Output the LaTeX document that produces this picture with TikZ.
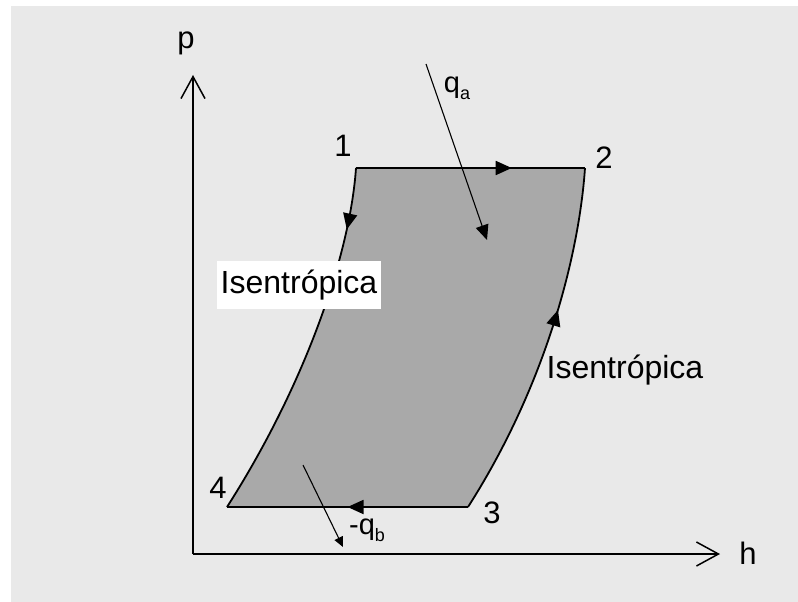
\documentclass[tikz,border=0pt]{standalone}
\usepackage{fontspec}
\setmainfont{Liberation Sans}
\usetikzlibrary{arrows.meta,decorations.markings}
\definecolor{bggray}{HTML}{E9E9E9}
\definecolor{cycgray}{HTML}{A9A9A9}
\newcommand{\lowsub}[1]{\raisebox{-7pt}{\fontsize{18}{18}\selectfont #1}}
\tikzset{
  axisline/.style={line width=1.5pt,-{Straight Barb[length=22pt,width=24pt]}},
  cycedge/.style={line width=1.8pt,line join=round},
  cycfill/.style={fill=cycgray},
  midarrow/.style={postaction={decorate},decoration={markings,
    mark=at position #1 with {\arrow{Triangle[length=16pt,width=14pt]}}}},
  heat/.style={line width=1.1pt,-{Triangle[length=15pt,width=13pt]}},
  heatsmall/.style={line width=1.1pt,-{Triangle[length=10pt,width=9pt]}},
  ptlbl/.style={font=\fontsize{31}{36}\selectfont,inner sep=0pt},
  qlbl/.style={font=\fontsize{29}{34}\selectfont,inner sep=0pt},
  isolbl/.style={font=\fontsize{32}{38}\selectfont},
}
\begin{document}
\begin{tikzpicture}[x=1pt,y=-1pt]
  % background
  \fill[white] (0,0) rectangle (798,602);
  \fill[bggray] (11,6) rectangle (798,602);
  % axes
  \coordinate (o) at (193,554);
  \coordinate (ytip) at (193,75);
  \coordinate (xtip) at (720,554);
  \draw[axisline] (o) -- (ytip);
  \draw[axisline] (o) -- (xtip);
  \node[ptlbl] (plbl) at (186,43) {p};
  \node[ptlbl] (hlbl) at (748,553) {h};
  % cycle corners
  \coordinate (p1) at (356,168);
  \coordinate (p2) at (585,168);
  \coordinate (p3) at (468,507);
  \coordinate (p4) at (227,507);
  \fill[cycfill] (p1) -- (p2) .. controls (579,255) and (546,385) .. (p3)
    -- (p4) .. controls (305,385) and (350,255) .. (p1) -- cycle;
  \draw[cycedge,midarrow=0.68] (p1) -- (p2);
  \draw[cycedge,midarrow=0.6] (p3) .. controls (546,385) and (579,255) .. (p2);
  \draw[cycedge,midarrow=0.5] (p3) -- (p4);
  \draw[cycedge,midarrow=0.17] (p1) .. controls (350,255) and (305,385) .. (p4);
  \node[ptlbl] (lbl1) at (343,146) {1};
  \node[ptlbl] (lbl2) at (604,158) {2};
  \node[ptlbl] (lbl3) at (492,513) {3};
  \node[ptlbl] (lbl4) at (218,488) {4};
  % heat in and out
  \coordinate (qa0) at (426,64);
  \coordinate (qa1) at (487,240);
  \draw[heat] (qa0) -- (qa1);
  \node[qlbl] (qalbl) at (457,88) {q\lowsub{a}};
  \coordinate (qb0) at (303,465);
  \coordinate (qb1) at (343,547);
  \draw[heatsmall] (qb0) -- (qb1);
  \node[qlbl] (qblbl) at (367,530) {-q\lowsub{b}};
  % isentropic labels
  \node[isolbl,fill=white,inner xsep=4pt,minimum height=48pt] (isoleft) at (299,285) {Isentrópica};
  \node[isolbl] (isoright) at (625,370) {Isentrópica};
\end{tikzpicture}
\end{document}
